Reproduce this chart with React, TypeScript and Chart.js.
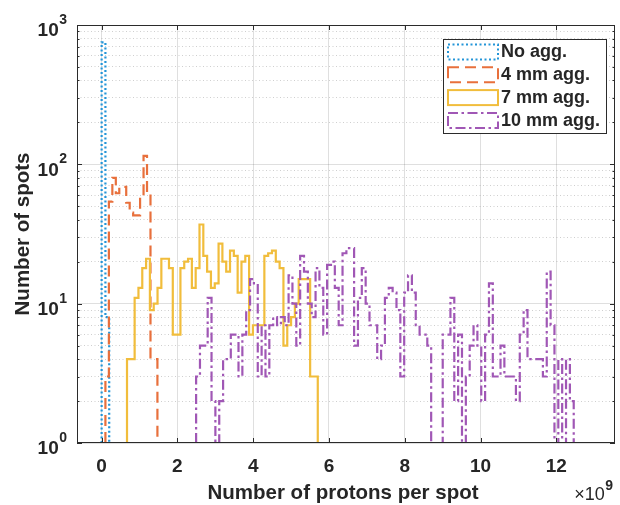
import React, { useEffect, useRef } from 'react';
import { Chart, registerables } from 'chart.js';

Chart.register(...registerables);

// ---- histogram data: first bin edge, bin width, counts per bin ----
const seriesLabels = ['No agg.', '4 mm agg.', '7 mm agg.', '10 mm agg.'];

const noAggStart = 0;
const noAggWidth = 0.1;
const noAggCounts = [750, 8];

const agg4Start = 0.1;
const agg4Width = 0.0915;
const agg4Counts = [3, 54, 80, 62, 69, 69, 53, 45, 43, 43, 60, 115, 63, 4, 4];

const agg7Start = 0.67;
const agg7Width = 0.1007;
const agg7Counts = [
  4, 4, 11, 13, 18, 21, 9, 10, 13, 21,
  21, 18, 6, 6, 18, 20, 21, 13, 18, 37,
  22, 17, 13, 14, 27, 20, 17, 24, 22, 12,
  20, 22, 6, 7, 7, 7, 22, 23, 24, 20,
  18, 5, 7, 8, 10, 15, 15, 15, 3, 3,
];

const agg10Start = 2.494;
const agg10Width = 0.1017;
const agg10Counts = [
  3, 5, 5, 11, 2, 1, 2, 4, 4, 6,
  6, 3, 6, 9, 15, 14, 3, 7, 3, 7,
  8, 7, 8, 7, 16, 10, 5, 22, 17, 10,
  8, 18, 13, 6, 19, 20, 13, 7, 23, 25,
  25, 5, 11, 18, 10, 7, 7, 4, 5, 11,
  13, 12, 9, 3, 12, 16, 12, 7, 6, 6,
  5, 1, 1, 1, 6, 6, 11, 2, 6, 1,
  3, 5, 7, 5, 2, 6, 14, 3, 3, 5,
  3, 3, 3, 2, 6, 9, 4, 4, 4, 4,
  3, 17, 7, 1, 4, 1, 4, 2,
];

const xTickValues = [0, 2, 4, 6, 8, 10, 12];
const yDecades = [0, 1, 2, 3];
const xLimits = [-0.65, 13.55];

// ---- styling ----
const FONT = '"Liberation Sans", Arial, Helvetica, sans-serif';
const TEXT = '#262626';
const AXIS = '#2b2b2b';
const GRID_MAJOR = 'rgba(38,38,38,0.15)';
const GRID_MINOR = 'rgba(38,38,38,0.22)';

const seriesStyles = [
  { color: '#2395d8', dash: [2, 2.5] },
  { color: '#e8703c', dash: [11, 6] },
  { color: '#f1bd3c', dash: [] as number[] },
  { color: '#a057b5', dash: [10, 3.5, 2.5, 3.5] },
];

// stairs outline of a histogram: rises from the floor at the first edge,
// follows each bin top and falls back to the floor after the last bin
function stairs(start: number, width: number, counts: number[]) {
  const pts: { x: number; y: number }[] = [{ x: start, y: 1 }];
  counts.forEach((c, i) => pts.push({ x: start + i * width, y: c }));
  pts.push({ x: start + counts.length * width, y: 1 });
  return pts;
}

function logTicks() {
  const ticks: { value: number; major: boolean }[] = [];
  for (let d = yDecades[0]; d < yDecades[yDecades.length - 1]; d++) {
    for (let m = 1; m < 10; m++) ticks.push({ value: m * 10 ** d, major: m === 1 });
  }
  ticks.push({ value: 10 ** yDecades[yDecades.length - 1], major: true });
  return ticks;
}

const decorations = {
  id: 'decorations',
  afterDatasetsDraw(chart: any) {
    const { ctx, chartArea: a, scales } = chart;
    const xs = scales.x;
    const ys = scales.y;
    ctx.save();

    // axes box
    ctx.strokeStyle = AXIS;
    ctx.lineWidth = 1;
    ctx.setLineDash([]);
    ctx.strokeRect(a.left + 0.5, a.top + 0.5, a.right - a.left - 1, a.bottom - a.top - 1);

    // inward tick marks
    ctx.beginPath();
    xTickValues.forEach((v) => {
      const px = Math.round(xs.getPixelForValue(v)) + 0.5;
      ctx.moveTo(px, a.bottom);
      ctx.lineTo(px, a.bottom - 5);
      ctx.moveTo(px, a.top);
      ctx.lineTo(px, a.top + 5);
    });
    ys.ticks.forEach((t: any) => {
      const py = Math.round(ys.getPixelForValue(t.value)) + 0.5;
      const len = t.major ? 5 : 2.5;
      ctx.moveTo(a.left, py);
      ctx.lineTo(a.left + len, py);
      ctx.moveTo(a.right, py);
      ctx.lineTo(a.right - len, py);
    });
    ctx.stroke();

    // y tick labels 10^n
    ctx.fillStyle = TEXT;
    ctx.textAlign = 'right';
    ctx.textBaseline = 'middle';
    yDecades.forEach((d) => {
      const py = ys.getPixelForValue(10 ** d);
      const expRight = a.left - 10;
      ctx.font = `bold 14px ${FONT}`;
      const ew = ctx.measureText(String(d)).width;
      ctx.fillText(String(d), expRight, py - 5);
      ctx.font = `bold 19px ${FONT}`;
      ctx.fillText('10', expRight - ew - 0.5, py + 6);
    });

    // x exponent marker
    ctx.textAlign = 'right';
    ctx.font = `bold 14px ${FONT}`;
    const nine = ctx.measureText('9').width;
    ctx.fillText('9', a.right - 2, 486);
    ctx.font = `18px ${FONT}`;
    ctx.fillText('\u00d710', a.right - 2 - nine - 0.5, 495);

    // axis titles
    ctx.font = `bold 20.5px ${FONT}`;
    ctx.textAlign = 'center';
    ctx.fillText('Number of protons per spot', (a.left + a.right) / 2 - 3, 493);
    ctx.save();
    ctx.translate(23, (a.top + a.bottom) / 2);
    ctx.rotate(-Math.PI / 2);
    ctx.fillText('Number of spots', 0, 0);
    ctx.restore();

    // legend box
    const lx = a.right - 172;
    const ly = a.top + 14;
    const lw = 164;
    const lh = 95;
    ctx.fillStyle = '#ffffff';
    ctx.fillRect(lx, ly, lw, lh);
    ctx.strokeStyle = AXIS;
    ctx.lineWidth = 1;
    ctx.strokeRect(lx + 0.5, ly + 0.5, lw - 1, lh - 1);
    ctx.font = `bold 18px ${FONT}`;
    ctx.textAlign = 'left';
    ctx.textBaseline = 'middle';
    seriesLabels.forEach((label, i) => {
      const st = seriesStyles[i];
      const top = ly + 4.5 + i * 22.8;
      ctx.strokeStyle = st.color;
      ctx.lineWidth = 2;
      ctx.setLineDash(st.dash);
      ctx.strokeRect(lx + 5, top + 1, 50, 15);
      ctx.setLineDash([]);
      ctx.fillStyle = TEXT;
      ctx.fillText(label, lx + 58, top + 9);
    });

    ctx.restore();
  },
};

export default function App() {
  const ref = useRef<HTMLCanvasElement>(null);

  useEffect(() => {
    const canvas = ref.current;
    if (!canvas) return;

    const series = [
      stairs(noAggStart, noAggWidth, noAggCounts),
      stairs(agg4Start, agg4Width, agg4Counts),
      stairs(agg7Start, agg7Width, agg7Counts),
      stairs(agg10Start, agg10Width, agg10Counts),
    ];

    const chart = new Chart(canvas, {
      type: 'line',
      data: {
        datasets: series.map((pts, i) => ({
          label: seriesLabels[i],
          data: pts,
          stepped: 'before' as const,
          borderColor: seriesStyles[i].color,
          borderDash: seriesStyles[i].dash,
          borderWidth: 2.2,
          pointRadius: 0,
          fill: false,
          order: 3 - i,
        })),
      },
      options: {
        responsive: false,
        animation: false,
        devicePixelRatio: 1,
        layout: { padding: { left: 0, right: 5, top: 25, bottom: 0 } },
        plugins: {
          legend: { display: false },
          tooltip: { enabled: false },
        },
        scales: {
          x: {
            type: 'linear',
            min: xLimits[0],
            max: xLimits[1],
            afterBuildTicks: (s: any) => {
              s.ticks = xTickValues.map((v) => ({ value: v }));
            },
            afterFit: (s: any) => {
              s.height = 62;
            },
            grid: { color: GRID_MAJOR, drawTicks: false, lineWidth: 1 },
            border: { display: false },
            ticks: {
              autoSkip: false,
              maxRotation: 0,
              padding: 12,
              color: TEXT,
              font: { family: FONT, size: 19, weight: 'bold' },
            },
          },
          y: {
            type: 'logarithmic',
            min: 1,
            max: 1000,
            afterBuildTicks: (s: any) => {
              s.ticks = logTicks();
            },
            afterFit: (s: any) => {
              s.width = 77;
            },
            grid: {
              drawTicks: false,
              lineWidth: 1,
              color: (c: any) => (c.tick && !c.tick.major ? GRID_MINOR : GRID_MAJOR),
            },
            border: {
              display: false,
              dash: (c: any) => (c.tick && !c.tick.major ? [1, 2.5] : []),
            },
            ticks: { display: false },
          },
        },
      } as any,
      plugins: [decorations],
    });

    return () => chart.destroy();
  }, []);

  return (
    <canvas
      ref={ref}
      width={620}
      height={505}
      style={{ position: 'absolute', left: 0, top: 0, width: 620, height: 505 }}
    />
  );
}
